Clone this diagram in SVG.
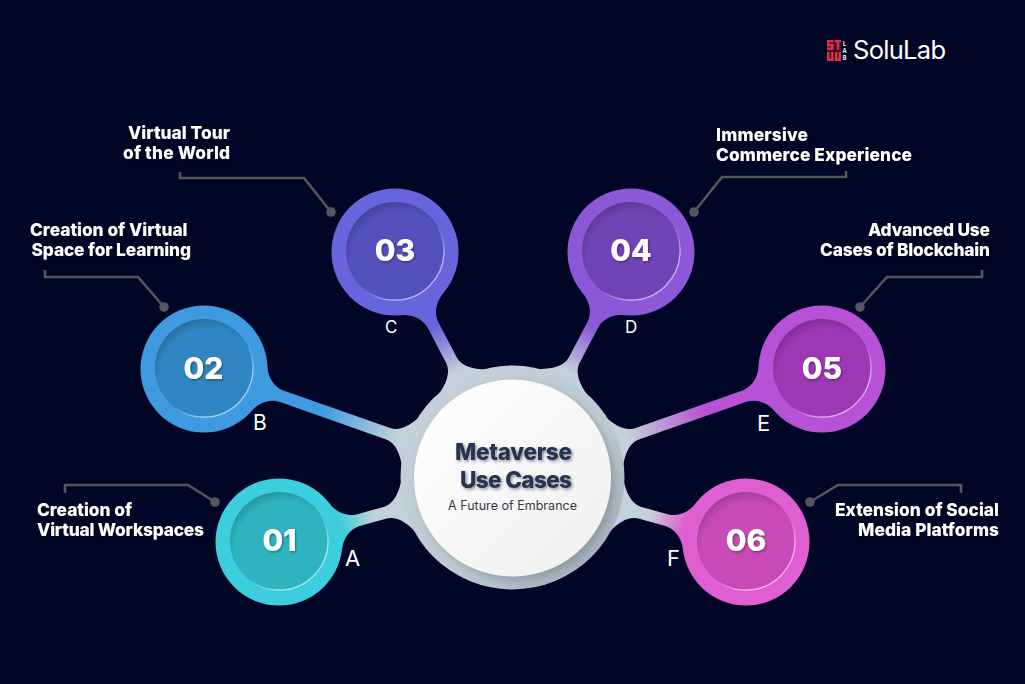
<svg xmlns="http://www.w3.org/2000/svg" width="1025" height="684" viewBox="0 0 1025 684">
<style>
text{font-family:"Inter","Liberation Sans",sans-serif}
.lab{font-size:17.3px;font-weight:800;fill:#fff;filter:url(#ts)}
.num{font-size:30px;font-weight:800;fill:#fff;text-anchor:middle;filter:url(#ts)}
.let{font-weight:400;fill:#fff}
.lead{fill:none;stroke:#55565c;stroke-width:2.6}
.dot{fill:#55565c}
.shade{fill:url(#shade)}
.edge{fill:none;stroke:url(#edge);stroke-width:1.4}
.red{fill:#d8323f}
.hub1{font-size:22.5px;font-weight:800;fill:#26364d;filter:url(#ts2)}
</style>
<defs>
<filter id="ts" x="-10%" y="-20%" width="120%" height="150%"><feDropShadow dx="1" dy="1.2" stdDeviation="0.8" flood-color="#000" flood-opacity=".4"/></filter>
<filter id="ts2" x="-10%" y="-20%" width="125%" height="160%"><feDropShadow dx="1.5" dy="1.5" stdDeviation="1.4" flood-color="#26364d" flood-opacity=".55"/></filter>
<filter id="hs" x="-20%" y="-20%" width="140%" height="140%"><feDropShadow dx="4" dy="4" stdDeviation="4" flood-color="#5c6a74" flood-opacity=".4"/></filter>
<radialGradient id="shade" cx=".55" cy=".6" r=".66"><stop offset=".76" stop-color="#000" stop-opacity="0"/><stop offset="1" stop-color="#000" stop-opacity=".26"/></radialGradient>
<linearGradient id="edge" x1=".15" y1=".1" x2=".85" y2=".9"><stop offset=".6" stop-color="#fff" stop-opacity="0"/><stop offset=".85" stop-color="#fff" stop-opacity=".55"/></linearGradient>
<linearGradient id="hubring" x1="0" y1="0" x2="1" y2="1"><stop offset="0" stop-color="#c6d3da"/><stop offset=".6" stop-color="#bccad2"/><stop offset="1" stop-color="#9aa9b3"/></linearGradient>
<linearGradient id="disc" x1="0" y1="0" x2="1" y2="1"><stop offset="0" stop-color="#fff"/><stop offset="1" stop-color="#f0f0f0"/></linearGradient>
<linearGradient id="c1" gradientUnits="userSpaceOnUse" x1="64" y1="0" x2="100" y2="0"><stop offset="0" stop-color="#3ccedd"/><stop offset="1" stop-color="#c3d1d8"/></linearGradient>
<linearGradient id="c2" gradientUnits="userSpaceOnUse" x1="125" y1="0" x2="205" y2="0"><stop offset="0" stop-color="#3f9ae0"/><stop offset="1" stop-color="#c3d1d8"/></linearGradient>
<linearGradient id="c3" gradientUnits="userSpaceOnUse" x1="85" y1="0" x2="135" y2="0"><stop offset="0" stop-color="#6765db"/><stop offset="1" stop-color="#c3d1d8"/></linearGradient>
<linearGradient id="c4" gradientUnits="userSpaceOnUse" x1="85" y1="0" x2="135" y2="0"><stop offset="0" stop-color="#8c58d8"/><stop offset="1" stop-color="#c3d1d8"/></linearGradient>
<linearGradient id="c5" gradientUnits="userSpaceOnUse" x1="125" y1="0" x2="205" y2="0"><stop offset="0" stop-color="#b752d6"/><stop offset="1" stop-color="#c3d1d8"/></linearGradient>
<linearGradient id="c6" gradientUnits="userSpaceOnUse" x1="64" y1="0" x2="100" y2="0"><stop offset="0" stop-color="#e05fd0"/><stop offset="1" stop-color="#c3d1d8"/></linearGradient>
</defs>
<rect width="1025" height="684" fill="#010526"/>

<g id="logo">
<g class="red">
<rect x="827" y="40" width="14" height="21" fill-opacity=".28"/>
<rect x="827" y="40" width="6.5" height="2.4"/><rect x="827" y="40" width="2.4" height="5.5"/><rect x="827" y="44" width="6.5" height="2.4"/><rect x="831.1" y="44" width="2.4" height="5.5"/><rect x="827" y="47.5" width="6.5" height="2.4"/>
<rect x="835" y="40" width="6" height="2.4"/><rect x="836.8" y="40" width="2.4" height="9.9"/>
<rect x="827" y="52" width="2.4" height="9"/><rect x="831.1" y="52" width="2.4" height="9"/><rect x="827" y="58.6" width="6.5" height="2.4"/>
<rect x="835" y="52" width="2.4" height="9"/><rect x="838.6" y="52" width="2.4" height="9"/><rect x="835" y="58.6" width="6" height="2.4"/>
</g>
<text x="844.5" y="45.5" font-size="5.5" font-weight="700" fill="#fff" text-anchor="middle">L</text>
<text x="844.5" y="52.5" font-size="5.5" font-weight="700" fill="#fff" text-anchor="middle">A</text>
<text x="844.5" y="59.5" font-size="5.5" font-weight="700" fill="#fff" text-anchor="middle">B</text>
<text x="853" y="58.5" font-size="25.5" font-weight="400" fill="#fff" textLength="93">SoluLab</text>
</g>

<g id="connectors">
<path transform="translate(279 542) rotate(-15.44)" fill="url(#c1)" d="M45-30L58-25Q66-7 82-6L111-6Q125-7 136-30L152-30L152 30L136 30Q125 7 111 6L82 6Q66 7 58 25L45 30Z"/>
<path transform="translate(204 369) rotate(19.37)" fill="url(#c2)" d="M45-30L58-25Q66-7 82-6L196-6Q210-7 221-30L237-30L237 30L221 30Q210 7 196 6L82 6Q66 7 58 25L45 30Z"/>
<path transform="translate(395 252) rotate(62.47)" fill="url(#c3)" d="M45-30L58-25Q66-7 82-6L123-6Q137-7 148-30L164-30L164 30L148 30Q137 7 123 6L82 6Q66 7 58 25L45 30Z"/>
<path transform="translate(631 252) rotate(117.7)" fill="url(#c4)" d="M45-30L58-25Q66-7 82-6L123-6Q137-7 148-30L164-30L164 30L148 30Q137 7 123 6L82 6Q66 7 58 25L45 30Z"/>
<path transform="translate(822 369) rotate(160.7)" fill="url(#c5)" d="M45-30L58-25Q66-7 82-6L197-6Q211-7 222-30L238-30L238 30L222 30Q211 7 197 6L82 6Q66 7 58 25L45 30Z"/>
<path transform="translate(746 542) rotate(195.44)" fill="url(#c6)" d="M45-30L58-25Q66-7 82-6L111-6Q125-7 136-30L152-30L152 30L136 30Q125 7 111 6L82 6Q66 7 58 25L45 30Z"/>
<path class="lead" d="M65 493V485H188L215 502"/>
<path class="lead" d="M45 270V277H138L164 307"/>
<path class="lead" d="M180 172V178H304L331 212"/>
<path class="lead" d="M846 171V177H722L694 212"/>
<path class="lead" d="M982 270V277H887L860 307"/>
<path class="lead" d="M961 493V485H838L810 502"/>
<circle class="dot" cx="215" cy="502" r="4.8"/>
<circle class="dot" cx="164" cy="307" r="4.8"/>
<circle class="dot" cx="331" cy="212" r="4.8"/>
<circle class="dot" cx="694" cy="212" r="4.8"/>
<circle class="dot" cx="860" cy="307" r="4.8"/>
<circle class="dot" cx="810" cy="502" r="4.8"/>
</g>

<g id="hub">
<circle cx="512.5" cy="477.5" r="112" fill="url(#hubring)"/>
<circle cx="512.5" cy="478" r="98.5" fill="url(#disc)" filter="url(#hs)"/>
<text class="hub1" x="455" y="460" textLength="117">Metaverse</text>
<text class="hub1" x="460" y="488" textLength="112">Use Cases</text>
<text x="448" y="510" font-size="12.5" fill="#333a46" textLength="129">A Future of Embrance</text>
</g>

<g id="node-01">
<circle cx="279" cy="542" r="63.5" fill="#3ccedd"/>
<circle cx="279" cy="541" r="49" fill="#2fb4bf"/><circle class="shade" cx="279" cy="541" r="49"/><circle class="edge" cx="279" cy="541" r="49"/>
<text class="num" x="279.5" y="550.5">01</text>
<text class="let" x="345" y="566" font-size="22" textLength="17">A</text>
<text class="lab" x="37" y="516" textLength="95">Creation of</text>
<text class="lab" x="37" y="536" textLength="167">Virtual Workspaces</text>
</g>
<g id="node-02">
<circle cx="204" cy="369" r="63.5" fill="#3f9ae0"/>
<circle cx="204" cy="368" r="49" fill="#2f86c2"/><circle class="shade" cx="204" cy="368" r="49"/><circle class="edge" cx="204" cy="368" r="49"/>
<text class="num" x="203.5" y="378.5">02</text>
<text class="let" x="253" y="430" font-size="21" textLength="15">B</text>
<text class="lab" x="30" y="236" textLength="157.5">Creation of Virtual</text>
<text class="lab" x="31.5" y="256" textLength="159.5">Space for Learning</text>
</g>
<g id="node-03">
<circle cx="395" cy="252" r="63.5" fill="#6765db"/>
<circle cx="395" cy="251" r="49" fill="#5550bb"/><circle class="shade" cx="395" cy="251" r="49"/><circle class="edge" cx="395" cy="251" r="49"/>
<text class="num" x="395" y="260.5">03</text>
<text class="let" x="385" y="333" font-size="17" textLength="13">C</text>
<text class="lab" x="128" y="139" textLength="102">Virtual Tour</text>
<text class="lab" x="123" y="159" textLength="107">of the World</text>
</g>
<g id="node-04">
<circle cx="631" cy="252" r="63.5" fill="#8c58d8"/>
<circle cx="631" cy="251" r="49" fill="#7044b4"/><circle class="shade" cx="631" cy="251" r="49"/><circle class="edge" cx="631" cy="251" r="49"/>
<text class="num" x="631" y="260.5">04</text>
<text class="let" x="625" y="333" font-size="17" textLength="14">D</text>
<text class="lab" x="716" y="141" textLength="92">Immersive</text>
<text class="lab" x="716" y="161" textLength="196">Commerce Experience</text>
</g>
<g id="node-05">
<circle cx="822" cy="369" r="63.5" fill="#b752d6"/>
<circle cx="822" cy="368" r="49" fill="#9d38b4"/><circle class="shade" cx="822" cy="368" r="49"/><circle class="edge" cx="822" cy="368" r="49"/>
<text class="num" x="822" y="378.5">05</text>
<text class="let" x="757" y="431" font-size="22" textLength="13">E</text>
<text class="lab" x="868" y="236" textLength="122">Advanced Use</text>
<text class="lab" x="820" y="256" textLength="170">Cases of Blockchain</text>
</g>
<g id="node-06">
<circle cx="746" cy="542" r="63.5" fill="#e05fd0"/>
<circle cx="746" cy="541" r="49" fill="#c74ab7"/><circle class="shade" cx="746" cy="541" r="49"/><circle class="edge" cx="746" cy="541" r="49"/>
<text class="num" x="746" y="550.5">06</text>
<text class="let" x="667" y="566" font-size="22" textLength="11">F</text>
<text class="lab" x="835" y="516" textLength="164">Extension of Social</text>
<text class="lab" x="858" y="536" textLength="141">Media Platforms</text>
</g>
</svg>
